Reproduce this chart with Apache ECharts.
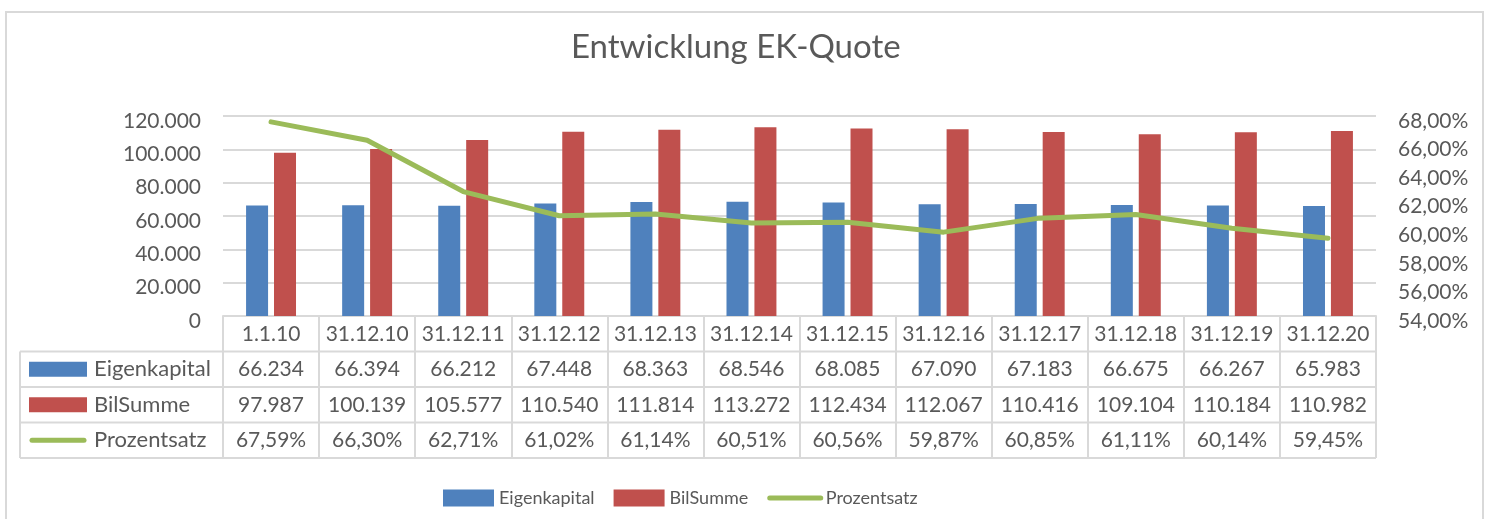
<!DOCTYPE html>
<html><head><meta charset="utf-8">
<script src="https://cdn.jsdelivr.net/npm/echarts@6/dist/echarts.min.js"></script>
<style>html,body{margin:0;padding:0;background:#fff}#c{width:1489px;height:519px}</style>
</head><body><div id="c"></div>
<script>
const categories = ['1.1.10','31.12.10','31.12.11','31.12.12','31.12.13','31.12.14','31.12.15','31.12.16','31.12.17','31.12.18','31.12.19','31.12.20'];
const eigenkapital = [66234, 66394, 66212, 67448, 68363, 68546, 68085, 67090, 67183, 66675, 66267, 65983];
const bilSumme = [97987, 100139, 105577, 110540, 111814, 113272, 112434, 112067, 110416, 109104, 110184, 110982];
const prozentsatz = [67.59, 66.30, 62.71, 61.02, 61.14, 60.51, 60.56, 59.87, 60.85, 61.11, 60.14, 59.45];
const seriesNames = ['Eigenkapital', 'BilSumme', 'Prozentsatz'];
const titleText = 'Entwicklung EK-Quote';

const BLUE = '#4F81BD', RED = '#C0504D', GREEN = '#9BBB59', TXT = '#595959', GRID = '#D9D9D9';
const FONT = 'Lato, "Noto Sans", sans-serif';

function fmtThousands(v) { return String(Math.round(v)).replace(/\B(?=(\d{3})+(?!\d))/g, '.'); }
function fmtPct(v) { return v.toFixed(2).replace('.', ',') + '%'; }

const GRID_LEFT = 223, GRID_TOP = 116, GRID_W = 1153, GRID_H = 200;
const ROW_H = 35.5, TABLE_LEFT = 20;

const chart = echarts.init(document.getElementById('c'), null, { renderer: 'canvas' });
const option = {
  animation: false,
  backgroundColor: '#fff',
  textStyle: { fontFamily: FONT },
  grid: { left: GRID_LEFT, top: GRID_TOP, width: GRID_W, height: GRID_H, containLabel: false },
  legend: {
    left: 438, top: 484,
    itemWidth: 51, itemHeight: 17, itemGap: 19,
    textStyle: { fontFamily: FONT, fontSize: 18, color: TXT },
    lineStyle: { width: 5, cap: 'round' },
    data: [
      { name: seriesNames[0], icon: 'rect' },
      { name: seriesNames[1], icon: 'rect' },
      { name: seriesNames[2], itemStyle: { opacity: 0, color: 'rgba(0,0,0,0)', borderWidth: 0 } }
    ]
  },
  xAxis: {
    type: 'category', data: categories,
    axisLine: { show: true, lineStyle: { color: GRID, width: 2 } },
    axisTick: { show: true, length: ROW_H * 4, interval: 0, lineStyle: { color: GRID, width: 2 } },
    axisLabel: { interval: 0, margin: 18, verticalAlign: 'middle', fontFamily: FONT, fontSize: 21, color: TXT },
    splitLine: { show: false }
  },
  yAxis: [
    {
      type: 'value', min: 0, max: 120000, interval: 20000,
      axisLine: { show: false }, axisTick: { show: false },
      axisLabel: { margin: 22, verticalAlign: 'top', lineHeight: 10, fontFamily: FONT, fontSize: 21, color: TXT, formatter: v => fmtThousands(v) },
      splitLine: { show: true, lineStyle: { color: GRID, width: 2 } }
    },
    {
      type: 'value', min: 54, max: 68, interval: 2,
      axisLine: { show: false }, axisTick: { show: false },
      axisLabel: { margin: 22, verticalAlign: 'top', lineHeight: 10, fontFamily: FONT, fontSize: 21, color: TXT, formatter: v => fmtPct(v) },
      splitLine: { show: false }
    }
  ],
  series: [
    { name: seriesNames[0], type: 'bar', data: eigenkapital, barWidth: 22, barGap: '27%', itemStyle: { color: BLUE } },
    { name: seriesNames[1], type: 'bar', data: bilSumme, barWidth: 22, barGap: '27%', itemStyle: { color: RED } },
    { name: seriesNames[2], type: 'line', yAxisIndex: 1, data: prozentsatz, symbol: 'none', z: 5,
      lineStyle: { color: GREEN, width: 5, cap: 'round', join: 'round' }, itemStyle: { color: GREEN } }
  ]
};
chart.setOption(option);

// Data table (texts from arrays, columns placed by the category axis)
const rows = [
  { name: seriesNames[0], data: eigenkapital, fmt: fmtThousands, color: BLUE, key: 'rect' },
  { name: seriesNames[1], data: bilSumme, fmt: fmtThousands, color: RED, key: 'rect' },
  { name: seriesNames[2], data: prozentsatz, fmt: fmtPct, color: GREEN, key: 'line' }
];
const tableTop = GRID_TOP + GRID_H;
const right = GRID_LEFT + GRID_W;
const g = [];
g.push({ type: 'rect', shape: { x: 6, y: 12, width: 1477, height: 530 }, style: { fill: 'none', stroke: GRID, lineWidth: 2 }, silent: true, z: -1 });
g.push({ type: 'text', left: 571, top: 31, style: { text: titleText, font: '33px ' + FONT, fill: TXT } });
for (let r = 0; r <= rows.length; r++) {
  const y = tableTop + ROW_H * (r + 1);
  g.push({ type: 'line', shape: { x1: TABLE_LEFT, y1: y, x2: right, y2: y }, style: { stroke: GRID, lineWidth: 2 }, silent: true });
}
g.push({ type: 'line', shape: { x1: TABLE_LEFT, y1: tableTop + ROW_H, x2: TABLE_LEFT, y2: tableTop + ROW_H * 4 }, style: { stroke: GRID, lineWidth: 2 }, silent: true });
rows.forEach((row, r) => {
  const cy = tableTop + ROW_H * (r + 1.5);
  if (row.key === 'rect') {
    g.push({ type: 'rect', shape: { x: 29, y: cy - 7.5, width: 58, height: 15 }, style: { fill: row.color } });
  } else {
    g.push({ type: 'line', shape: { x1: 32, y1: cy, x2: 84, y2: cy }, style: { stroke: row.color, lineWidth: 5, lineCap: 'round' } });
  }
  g.push({ type: 'text', x: 94, y: cy, style: { text: row.name, font: '22px ' + FONT, fill: TXT, verticalAlign: 'middle', align: 'left' } });
  row.data.forEach((v, i) => {
    const cx = chart.convertToPixel({ xAxisIndex: 0 }, i);
    g.push({ type: 'text', x: cx, y: cy, style: { text: row.fmt(v), font: '21px ' + FONT, fill: TXT, verticalAlign: 'middle', align: 'center' } });
  });
});
chart.setOption({ graphic: g });
</script>
</body></html>
